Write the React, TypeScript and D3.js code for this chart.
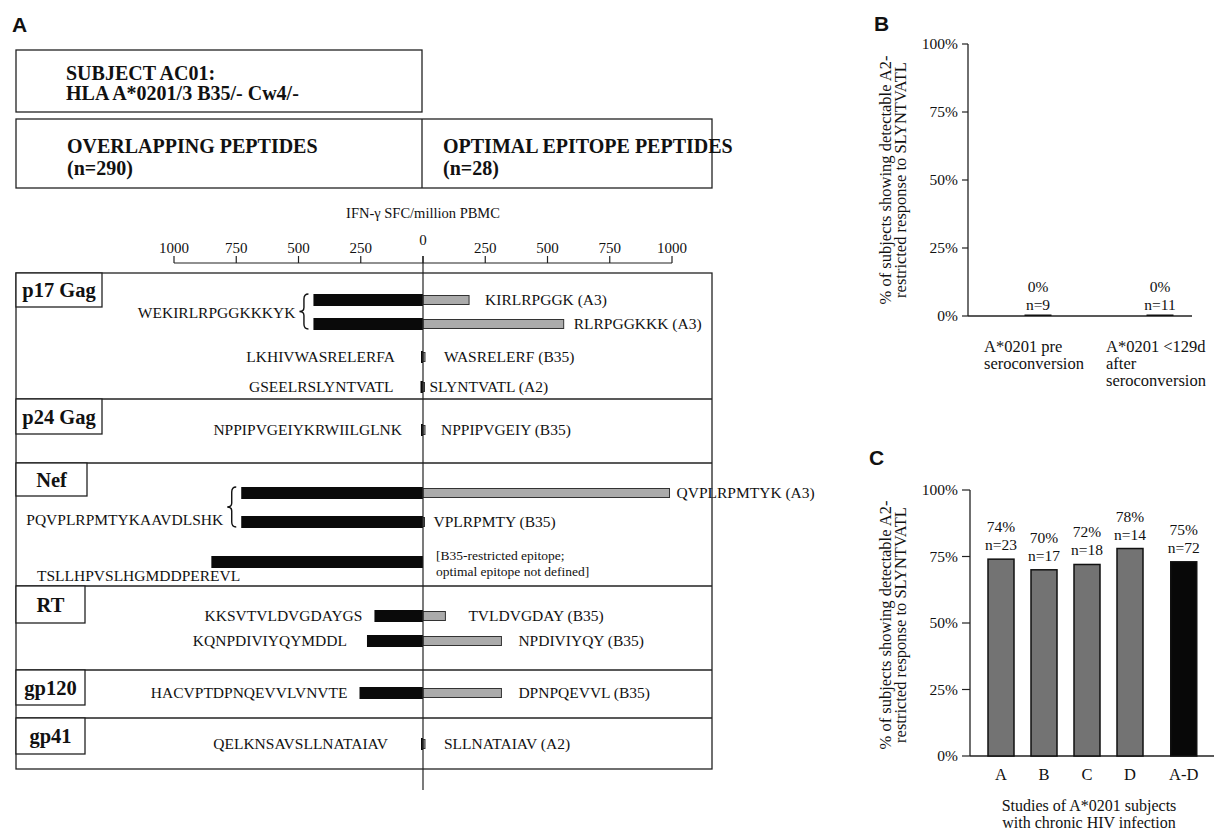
import React from 'react';
import * as d3 from 'd3';

// ---------- DATA ----------
const proteins = ['p17 Gag', 'p24 Gag', 'Nef', 'RT', 'gp120', 'gp41'];
const rowProtein = [0, 0, 0, 0, 1, 2, 2, 2, 3, 3, 4, 5];
const overlappingPeptides = [
  'WEKIRLRPGGKKKYK', 'WEKIRLRPGGKKKYK', 'LKHIVWASRELERFA', 'GSEELRSLYNTVATL',
  'NPPIPVGEIYKRWIILGLNK', 'PQVPLRPMTYKAAVDLSHK', 'PQVPLRPMTYKAAVDLSHK',
  'TSLLHPVSLHGMDDPEREVL', 'KKSVTVLDVGDAYGS', 'KQNPDIVIYQYMDDL',
  'HACVPTDPNQEVVLVNVTE', 'QELKNSAVSLLNATAIAV',
];
const overlappingSFC = [440, 440, 8, 10, 8, 730, 730, 850, 195, 225, 255, 8];
const optimalEpitopes = [
  ['KIRLRPGGK (A3)'], ['RLRPGGKKK (A3)'], ['WASRELERF (B35)'], ['SLYNTVATL (A2)'],
  ['NPPIPVGEIY (B35)'], ['QVPLRPMTYK (A3)'], ['VPLRPMTY (B35)'],
  ['[B35-restricted epitope;', 'optimal epitope not defined]'],
  ['TVLDVGDAY (B35)'], ['NPDIVIYQY (B35)'], ['DPNPQEVVL (B35)'], ['SLLNATAIAV (A2)'],
];
const optimalSFC = [185, 565, 8, 6, 8, 990, 6, 0, 90, 315, 315, 8];
const braceGroups = [[0, 1], [5, 6]];
const sfcTicks = [-1000, -750, -500, -250, 0, 250, 500, 750, 1000];

const panelBCategories = [['A*0201 pre', 'seroconversion'], ['A*0201 <129d', 'after', 'seroconversion']];
const panelBValues = [0, 0];
const panelBPct = ['0%', '0%'];
const panelBN = ['n=9', 'n=11'];

const panelCCategories = ['A', 'B', 'C', 'D', 'A-D'];
const panelCValues = [74, 70, 72, 78, 73];
const panelCPct = ['74%', '70%', '72%', '78%', '75%'];
const panelCN = ['n=23', 'n=17', 'n=18', 'n=14', 'n=72'];
const percentTicks = [0, 25, 50, 75, 100];

// ---------- LAYOUT ----------
const SERIF = "'Liberation Serif', 'Times New Roman', Times, serif";
const SANS = "'Liberation Sans', Arial, Helvetica, sans-serif";
const sectionTops = [273, 399, 463, 586, 670, 718];
const tableBottom = 769;
const tableLeft = 16;
const tableRight = 712;
const labelBoxW = [86, 86, 71, 69, 69, 69];
const labelBoxH = [34, 35, 33, 37, 35, 36];
const rowY = [300, 324, 357, 387, 430, 493, 522, 562, 616, 641, 693, 744];
const gapL = [18, 18, 26, 27, 19, 18, 18, 0, 12, 20, 12, 33];
const gapR = [16, 10, 19, 5, 16, 7, 9, 13, 23, 17, 17, 19];
const panelCSlots = [0, 1, 2, 3, 4.25];
const PEP = 15.5;

function bracePath(xr: number, y0: number, y1: number) {
  const w = 9;
  const m = (y0 + y1) / 2;
  const xm = xr - w / 2;
  return `M${xr},${y0} Q${xm},${y0} ${xm},${y0 + 5} L${xm},${m - 4} Q${xm},${m} ${xr - w},${m} Q${xm},${m} ${xm},${m + 4} L${xm},${y1 - 5} Q${xm},${y1} ${xr},${y1}`;
}

function PanelA() {
  const x = d3.scaleLinear().domain([-1000, 1000]).range([174, 672]);
  const x0 = x(0);
  const axisY = 263;
  const blackH = 12;
  const greyH = 9;
  const braced = new Set(braceGroups.flat());
  return (
    <g fontFamily={SERIF} fill="#111">
      <text x={12} y={32} fontFamily={SANS} fontWeight="bold" fontSize={21}>A</text>
      {/* header boxes */}
      <rect x={16} y={50} width={406} height={62} fill="none" stroke="#222" strokeWidth={1.3} />
      <text x={66} y={80} fontWeight="bold" fontSize={20}>SUBJECT AC01:</text>
      <text x={66} y={100} fontWeight="bold" fontSize={20}>HLA A*0201/3 B35/- Cw4/-</text>
      <rect x={16} y={119} width={696} height={69} fill="none" stroke="#222" strokeWidth={1.3} />
      <line x1={422} x2={422} y1={119} y2={188} stroke="#222" strokeWidth={1.3} />
      <text x={67} y={153} fontWeight="bold" fontSize={20}>OVERLAPPING PEPTIDES</text>
      <text x={67} y={175} fontWeight="bold" fontSize={20}>(n=290)</text>
      <text x={443} y={153} fontWeight="bold" fontSize={20}>OPTIMAL EPITOPE PEPTIDES</text>
      <text x={443} y={175} fontWeight="bold" fontSize={20}>(n=28)</text>
      {/* axis */}
      <text x={x0} y={218} textAnchor="middle" fontSize={14.5}>IFN-γ SFC/million PBMC</text>
      <line x1={x(-1000)} x2={x(1000)} y1={axisY} y2={axisY} stroke="#222" strokeWidth={1.2} />
      {sfcTicks.map((t) => (
        <g key={t}>
          <line x1={x(t)} x2={x(t)} y1={axisY} y2={axisY - 7} stroke="#222" strokeWidth={1.2} />
          <text x={x(t)} y={t === 0 ? 245 : 253} textAnchor="middle" fontSize={15}>{Math.abs(t)}</text>
        </g>
      ))}
      {/* table */}
      <rect x={tableLeft} y={sectionTops[0]} width={tableRight - tableLeft} height={tableBottom - sectionTops[0]} fill="none" stroke="#222" strokeWidth={1.3} />
      {sectionTops.slice(1).map((t) => (
        <line key={t} x1={tableLeft} x2={tableRight} y1={t} y2={t} stroke="#222" strokeWidth={1.3} />
      ))}
      {proteins.map((p, i) => (
        <g key={p}>
          <rect x={tableLeft} y={sectionTops[i]} width={labelBoxW[i]} height={labelBoxH[i]} fill="#fff" stroke="#222" strokeWidth={1.3} />
          <text x={tableLeft + labelBoxW[i] / 2} y={sectionTops[i] + labelBoxH[i] / 2 + 7} textAnchor="middle" fontWeight="bold" fontSize={20.5}>{p}</text>
        </g>
      ))}
      {/* bars */}
      {overlappingSFC.map((v, i) => (
        <rect key={'b' + i} x={x(-v)} y={rowY[i] - blackH / 2} width={x0 - x(-v)} height={blackH} fill="#0a0a0a" />
      ))}
      {optimalSFC.map((v, i) => v > 0 && (
        <rect key={'g' + i} x={x0} y={rowY[i] - greyH / 2} width={x(v) - x0} height={greyH} fill="#ababab" stroke="#333" strokeWidth={1} />
      ))}
      <line x1={x0} x2={x0} y1={256} y2={790} stroke="#222" strokeWidth={1.2} />
      {/* left labels */}
      {overlappingPeptides.map((p, i) => {
        if (braced.has(i)) return null;
        if (i === 7) return <text key={'l' + i} x={37} y={581} fontSize={PEP}>{p}</text>;
        return <text key={'l' + i} x={x(-overlappingSFC[i]) - gapL[i]} y={rowY[i] + 5} textAnchor="end" fontSize={PEP}>{p}</text>;
      })}
      {braceGroups.map((g, k) => {
        const a = g[0];
        const b = g[g.length - 1];
        const start = x(-overlappingSFC[a]);
        const y0 = rowY[a] - 6;
        const y1 = rowY[b] + 5;
        const ly = k === 0 ? (rowY[a] + rowY[b]) / 2 + 6 : rowY[b] + 3;
        return (
          <g key={'br' + k}>
            <path d={bracePath(start - 5, y0, y1)} fill="none" stroke="#111" strokeWidth={1.4} />
            <text x={start - gapL[a]} y={ly} textAnchor="end" fontSize={PEP}>{overlappingPeptides[a]}</text>
          </g>
        );
      })}
      {/* right labels */}
      {optimalEpitopes.map((lines, i) => (
        <text key={'r' + i} x={x(optimalSFC[i]) + gapR[i]} y={rowY[i] + 5 - (lines.length - 1) * 7} fontSize={lines.length > 1 ? 13.5 : PEP}>
          {lines.map((l, j) => (
            <tspan key={j} x={x(optimalSFC[i]) + gapR[i]} dy={j === 0 ? 0 : 16}>{l}</tspan>
          ))}
        </text>
      ))}
    </g>
  );
}

function YLabel({ cx, cy }: { cx: number; cy: number }) {
  return (
    <text transform={`translate(${cx},${cy}) rotate(-90)`} textAnchor="middle" fontSize={16.5}>
      <tspan x={0} y={0}>% of subjects showing detectable A2-</tspan>
      <tspan x={0} y={15}>restricted response to SLYNTVATL</tspan>
    </text>
  );
}

function PanelB() {
  const y = d3.scaleLinear().domain([0, 100]).range([316, 44]);
  const x = d3.scaleLinear().domain([0, 1]).range([1038, 1160]);
  const ax = 968;
  const bw = 27;
  return (
    <g fontFamily={SERIF} fill="#111">
      <text x={874} y={31} fontFamily={SANS} fontWeight="bold" fontSize={21}>B</text>
      <YLabel cx={891} cy={180} />
      <line x1={ax} x2={ax} y1={y(100)} y2={y(0)} stroke="#222" strokeWidth={1.3} />
      <line x1={ax} x2={1192} y1={y(0)} y2={y(0)} stroke="#222" strokeWidth={1.3} />
      {percentTicks.map((t) => (
        <g key={t}>
          <line x1={ax - 6} x2={ax} y1={y(t)} y2={y(t)} stroke="#222" strokeWidth={1.2} />
          <text x={ax - 10} y={y(t) + 5} textAnchor="end" fontSize={15.5}>{t}%</text>
        </g>
      ))}
      {panelBValues.map((v, i) => (
        <g key={i}>
          <rect x={x(i) - bw / 2} y={y(v) - 1.5} width={bw} height={Math.max(1.5, y(0) - y(v))} fill="#111" />
          <text x={x(i)} y={y(v) - 24} textAnchor="middle" fontSize={15.5}>{panelBPct[i]}</text>
          <text x={x(i)} y={y(v) - 6} textAnchor="middle" fontSize={15.5}>{panelBN[i]}</text>
          {panelBCategories[i].map((l, j) => (
            <text key={j} x={x(i) - 54} y={352 + j * 17} fontSize={16.5}>{l}</text>
          ))}
        </g>
      ))}
    </g>
  );
}

function PanelC() {
  const y = d3.scaleLinear().domain([0, 100]).range([756, 490]);
  const x = d3.scaleLinear().domain([0, 1]).range([1001, 1044]);
  const ax = 970;
  const bw = 26;
  return (
    <g fontFamily={SERIF} fill="#111">
      <text x={869} y={465} fontFamily={SANS} fontWeight="bold" fontSize={21}>C</text>
      <YLabel cx={891} cy={625} />
      <line x1={ax} x2={ax} y1={y(100)} y2={y(0)} stroke="#222" strokeWidth={1.3} />
      <line x1={ax} x2={1214} y1={y(0)} y2={y(0)} stroke="#222" strokeWidth={1.3} />
      {percentTicks.map((t) => (
        <g key={t}>
          <line x1={ax - 8} x2={ax} y1={y(t)} y2={y(t)} stroke="#222" strokeWidth={1.2} />
          <text x={ax - 12} y={y(t) + 5} textAnchor="end" fontSize={15.5}>{t}%</text>
        </g>
      ))}
      {panelCValues.map((v, i) => {
        const cx = x(panelCSlots[i]);
        const last = i === panelCValues.length - 1;
        return (
          <g key={i}>
            <rect x={cx - bw / 2} y={y(v)} width={bw} height={y(0) - y(v)} fill={last ? '#080808' : '#737373'} stroke="#111" strokeWidth={1.5} />
            <text x={cx} y={y(v) - 27} textAnchor="middle" fontSize={15.5}>{panelCPct[i]}</text>
            <text x={cx} y={y(v) - 9} textAnchor="middle" fontSize={15.5}>{panelCN[i]}</text>
            <text x={cx} y={780} textAnchor="middle" fontSize={16.5}>{panelCCategories[i]}</text>
          </g>
        );
      })}
      <text x={1089} y={811} textAnchor="middle" fontSize={16}>Studies of A*0201 subjects</text>
      <text x={1089} y={828} textAnchor="middle" fontSize={16}>with chronic HIV infection</text>
    </g>
  );
}

export default function App() {
  return (
    <div style={{ position: 'fixed', left: 0, top: 0 }}>
      <svg width={1220} height={835} viewBox="0 0 1220 835" style={{ display: 'block', background: '#fff' }}>
        <rect width={1220} height={835} fill="#fff" />
        <PanelA />
        <PanelB />
        <PanelC />
      </svg>
    </div>
  );
}
